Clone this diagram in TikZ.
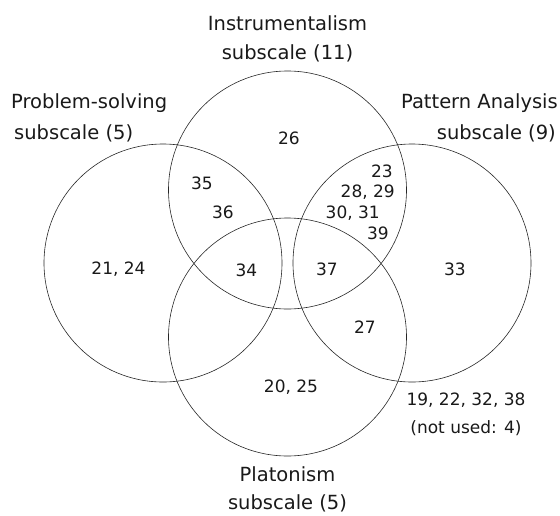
\documentclass[tikz,border=0pt]{standalone}
\usepackage{fontspec}
\setmainfont{DejaVu Sans}
\begin{document}
\begin{tikzpicture}[x=1pt,y=-1pt,
  set/.style={draw=black!85,line width=0.6pt},
  lbl/.style={font=\fontsize{19.5}{22}\selectfont,inner sep=0pt,text=black!90},
  num/.style={font=\fontsize{17}{20}\selectfont,inner sep=0pt,text=black!90}]
\useasboundingbox (0,0) rectangle (560,515);
\draw[set] (163,263) circle [radius=119];
\draw[set] (287.5,190) circle [radius=119];
\draw[set] (412,263) circle [radius=119];
\draw[set] (287.5,337) circle [radius=119];
\node[lbl] (ti1) at (287.5,23) {Instrumentalism};
\node[lbl] (ti2) at (287.5,53) {subscale (11)};
\node[lbl,anchor=west] (tp1) at (11,103) {Problem-solving};
\node[lbl,anchor=west] (tp2) at (14,133) {subscale (5)};
\node[lbl,anchor=east] (ta1) at (558,103) {Pattern Analysis};
\node[lbl,anchor=east] (ta2) at (556,133) {subscale (9)};
\node[lbl] (tl1) at (287.5,474) {Platonism};
\node[lbl] (tl2) at (287.5,503) {subscale (5)};
\node[num] (n26) at (289,138) {26};
\node[num] (n35) at (202,183) {35};
\node[num] (n36) at (223,212) {36};
\node[num,anchor=east] (n23) at (393,171) {23};
\node[num,anchor=east] (n28) at (395,192) {28, 29};
\node[num,anchor=east] (n30) at (380,213) {30, 31};
\node[num,anchor=east] (n39) at (389,233) {39};
\node[num] (n21) at (118.5,269) {21, 24};
\node[num] (n34) at (246.5,270) {34};
\node[num] (n37) at (327,269) {37};
\node[num] (n33) at (455,269) {33};
\node[num] (n27) at (365,327) {27};
\node[num] (n20) at (291,387) {20, 25};
\node[num] (n19) at (466,400) {19, 22, 32, 38};
\node[num] (nnu) at (466,428) {(not used: 4)};
\end{tikzpicture}
\end{document}
